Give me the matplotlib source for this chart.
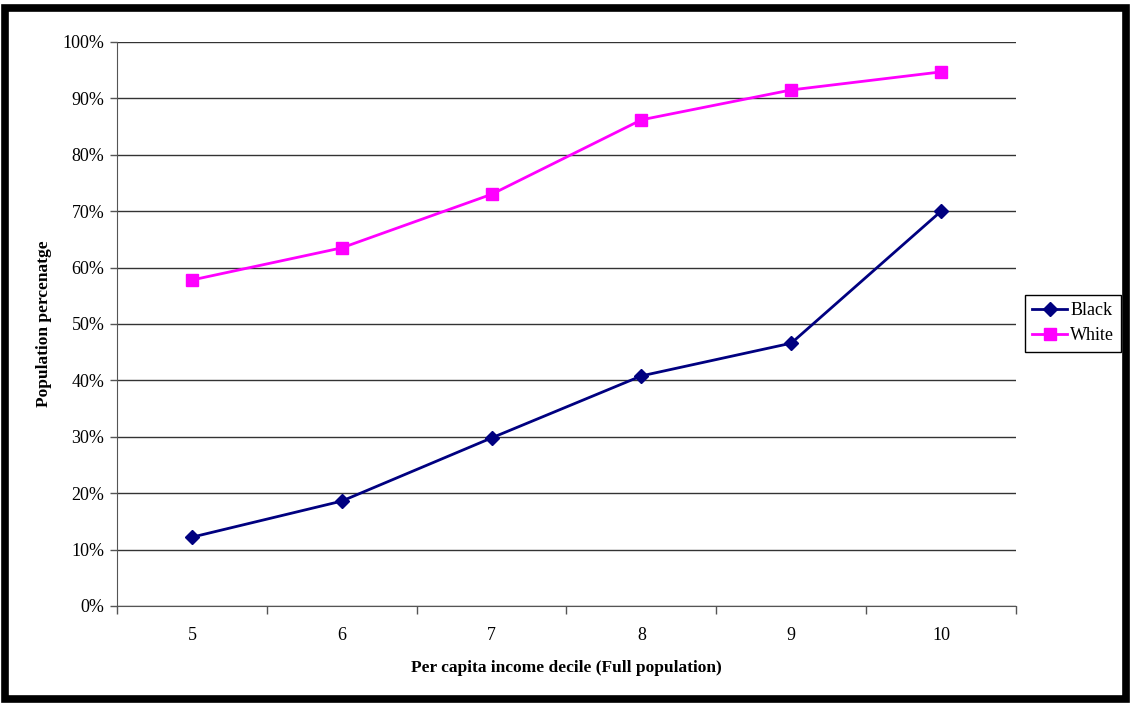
import matplotlib.pyplot as plt
from matplotlib.patches import Rectangle
from matplotlib.ticker import FuncFormatter

plt.rcParams['font.family'] = ['Liberation Serif', 'DejaVu Serif']

# data
deciles = ['5', '6', '7', '8', '9', '10']
black = [12.2, 18.6, 29.8, 40.8, 46.6, 70.0]
white = [57.8, 63.5, 73.0, 86.2, 91.5, 94.7]

fig = plt.figure(figsize=(11.31, 7.04), dpi=100)
ax = fig.add_axes([117 / 1131, 1 - 606 / 704, (1016 - 117) / 1131, (606 - 42) / 704])

x = list(range(len(deciles)))
ax.plot(x, black, color='#000080', marker='D', markersize=7, linewidth=2, label='Black')
ax.plot(x, white, color='#ff00ff', marker='s', markersize=8, linewidth=2, label='White')

ax.set_xlim(-0.5, len(deciles) - 0.5)
ax.set_ylim(0, 100)
ax.set_yticks(range(0, 101, 10))
ax.yaxis.set_major_formatter(FuncFormatter(lambda v, p: '%d%%' % v))
ax.set_xticks(x)
ax.set_xticklabels(deciles)
ax.set_xticks([i - 0.5 for i in range(len(deciles) + 1)], minor=True)
ax.tick_params(axis='x', which='major', length=0, pad=15, labelsize=13)
ax.tick_params(axis='x', which='minor', length=6, width=1, color='#555555')
ax.tick_params(axis='y', length=5, width=1, color='#555555', labelsize=13, pad=4)

ax.yaxis.grid(True, color='#333333', linewidth=1)
ax.set_axisbelow(True)
for s in ['top', 'right']:
    ax.spines[s].set_visible(False)
for s in ['left', 'bottom']:
    ax.spines[s].set_color('#555555')

ax.set_xlabel('Per capita income decile (Full population)', fontsize=12.5, fontweight='bold', labelpad=12)
ax.set_ylabel('Population percenatge', fontsize=12.5, fontweight='bold', labelpad=8)

leg = fig.legend(loc='upper left', bbox_to_anchor=(1025 / 1131, 1 - 295 / 704), fontsize=13,
                 frameon=True, fancybox=False, edgecolor='black', framealpha=1,
                 borderpad=0.4, borderaxespad=0, handlelength=1.95, handletextpad=0.15,
                 labelspacing=0.45)
leg.get_frame().set_linewidth(1)

# thick black frame around the figure
fig.patches.append(Rectangle((0.004, 0.007), 0.992, 0.982, transform=fig.transFigure,
                             fill=False, edgecolor='black', linewidth=5.5))

fig.savefig('out.png', dpi=100)
